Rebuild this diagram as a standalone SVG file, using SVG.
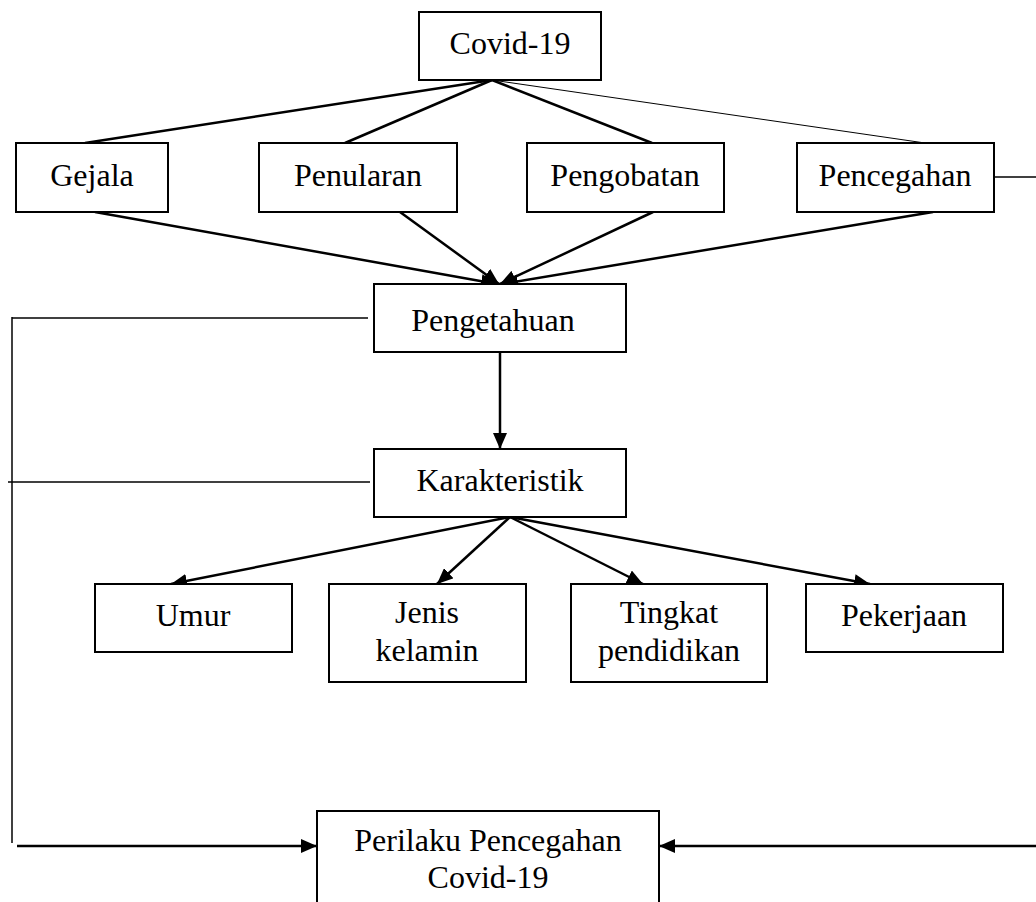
<svg xmlns="http://www.w3.org/2000/svg" width="1036" height="902" viewBox="0 0 1036 902">
<defs>
<style>
.box{fill:#fff;stroke:#000;stroke-width:2}
.t{font-family:"Liberation Serif","Times New Roman",serif;font-size:32px;fill:#000;text-anchor:middle}
.c{fill:none;stroke:#000;stroke-width:2.5}
.n{fill:none;stroke:#000;stroke-width:1.5}
.h{fill:none;stroke:#000;stroke-width:1}
</style>
<marker id="ah" markerUnits="userSpaceOnUse" markerWidth="17" markerHeight="14" refX="16" refY="7" orient="auto">
<path d="M0,0 L16,7 L0,14 Z" fill="#000"/>
</marker>
</defs>
<rect width="1036" height="902" fill="#fff"/>
<g id="connectors">
<line class="c" x1="492" y1="80" x2="85" y2="143"/>
<line class="c" x1="492" y1="80" x2="345" y2="143"/>
<line class="c" x1="492" y1="80" x2="652" y2="143"/>
<line class="h" x1="492" y1="80" x2="925" y2="143"/>
<line class="n" x1="994" y1="177" x2="1036" y2="177"/>
<line class="c" x1="95" y1="212" x2="497" y2="284" marker-end="url(#ah)"/>
<line class="c" x1="400" y1="212" x2="499" y2="284" marker-end="url(#ah)"/>
<line class="c" x1="653" y1="212" x2="500" y2="284" marker-end="url(#ah)"/>
<line class="c" x1="933" y1="212" x2="502" y2="284" marker-end="url(#ah)"/>
<line class="c" x1="500" y1="352" x2="500" y2="449" marker-end="url(#ah)"/>
<line class="n" x1="368" y1="318" x2="12" y2="318"/>
<line class="n" x1="12" y1="317" x2="12" y2="843"/>
<line class="n" x1="370" y1="482" x2="8" y2="482"/>
<line class="c" x1="510" y1="517" x2="171" y2="584" marker-end="url(#ah)"/>
<line class="c" x1="510" y1="517" x2="437" y2="584" marker-end="url(#ah)"/>
<line class="c" x1="510" y1="517" x2="643" y2="584" marker-end="url(#ah)"/>
<line class="c" x1="510" y1="517" x2="870" y2="584" marker-end="url(#ah)"/>
<line class="c" x1="17" y1="846" x2="317" y2="846" marker-end="url(#ah)"/>
<line class="c" x1="1036" y1="846" x2="659" y2="846" marker-end="url(#ah)"/>
</g>
<g id="covid19"><rect class="box" x="419" y="12" width="182" height="68"/><text class="t" x="510" y="54">Covid-19</text></g>
<g id="gejala"><rect class="box" x="16" y="143" width="152" height="69"/><text class="t" x="92" y="186">Gejala</text></g>
<g id="penularan"><rect class="box" x="259" y="143" width="198" height="69"/><text class="t" x="358" y="186">Penularan</text></g>
<g id="pengobatan"><rect class="box" x="527" y="143" width="197" height="69"/><text class="t" x="625" y="186">Pengobatan</text></g>
<g id="pencegahan"><rect class="box" x="797" y="143" width="197" height="69"/><text class="t" x="895" y="186">Pencegahan</text></g>
<g id="pengetahuan"><rect class="box" x="374" y="284" width="252" height="68"/><text class="t" x="493" y="331">Pengetahuan</text></g>
<g id="karakteristik"><rect class="box" x="374" y="449" width="252" height="68"/><text class="t" x="500" y="491">Karakteristik</text></g>
<g id="umur"><rect class="box" x="95" y="584" width="197" height="68"/><text class="t" x="193" y="626">Umur</text></g>
<g id="jenis-kelamin"><rect class="box" x="329" y="584" width="197" height="98"/><text class="t" x="427" y="623">Jenis</text><text class="t" x="427" y="661">kelamin</text></g>
<g id="tingkat-pendidikan"><rect class="box" x="571" y="584" width="196" height="98"/><text class="t" x="669" y="623">Tingkat</text><text class="t" x="669" y="661">pendidikan</text></g>
<g id="pekerjaan"><rect class="box" x="806" y="584" width="197" height="68"/><text class="t" x="904" y="626">Pekerjaan</text></g>
<g id="perilaku"><rect class="box" x="317" y="811" width="342" height="110"/><text class="t" x="488" y="851">Perilaku Pencegahan</text><text class="t" x="488" y="888">Covid-19</text></g>
</svg>
